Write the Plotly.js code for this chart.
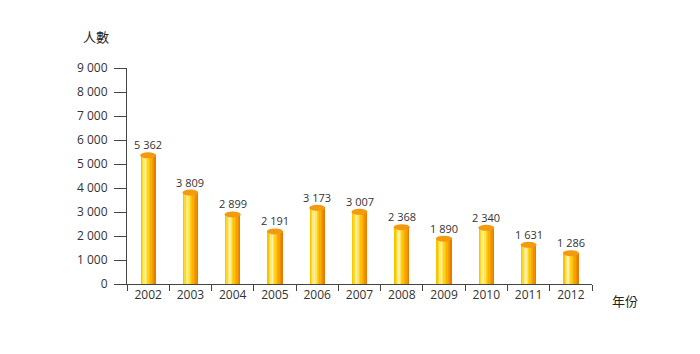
<!DOCTYPE html>
<html>
<head>
<meta charset="utf-8">
<script src="https://cdn.plot.ly/plotly-3.0.1.min.js"></script>
<style>html,body{margin:0;padding:0;background:#fff;}#chart{width:700px;height:354px;}</style>
</head>
<body>
<div id="chart"></div>
<script>
const years = ['2002','2003','2004','2005','2006','2007','2008','2009','2010','2011','2012'];
const persons = [5362, 3809, 2899, 2191, 3173, 3007, 2368, 1890, 2340, 1631, 1286];
const yTickVals = [0,1000,2000,3000,4000,5000,6000,7000,8000,9000];
const yTitle = '人數';
const xTitle = '年份';

// cylinder shading stripes (left -> right)
const stripeColors = ['#f7c600','#fbd82a','#ffe978','#fff0a8','#ffe35a','#fdd21c','#fbc20a','#f9b000','#f59f00','#f08c00','#e87c00'];
const barWidth = 0.36;
const n = stripeColors.length;
const sw = barWidth / n;

function fmt(v){ return String(v).replace(/\B(?=(\d{3})+(?!\d))/g,' '); }

const traces = stripeColors.map((c,k)=>({
  type:'bar', x: years, y: persons,
  width: sw*1.08, offset: -barWidth/2 + k*sw,
  marker:{color:c, line:{width:0}},
  hoverinfo:'skip', showlegend:false
}));

const shapes = persons.map((v,i)=>({
  type:'circle', xref:'x', yref:'y', layer:'above',
  x0: i - barWidth/2 - 0.01, x1: i + barWidth/2 + 0.01,
  y0: v - 125, y1: v + 125,
  fillcolor:'#f39a10', line:{width:0}
}));

const annotations = persons.map((v,i)=>({
  x: i, y: v, xref:'x', yref:'y', text: fmt(v), showarrow:false,
  xanchor:'center', yanchor:'bottom', yshift:1,
  font:{family:'Open Sans, sans-serif', size:11, color:'#333'}
}));
annotations.push({xref:'paper', yref:'paper', x:-0.067, y:1.145, text:yTitle, showarrow:false,
  xanchor:'center', yanchor:'middle', font:{family:'Noto Sans CJK TC, sans-serif', size:13, color:'#222'}});
annotations.push({xref:'paper', yref:'paper', x:1.07, y:-0.075, text:xTitle, showarrow:false,
  xanchor:'center', yanchor:'middle', font:{family:'Noto Sans CJK TC, sans-serif', size:13, color:'#222'}});

const layout = {
  width:700, height:354,
  margin:{l:127, r:108, t:68, b:70},
  paper_bgcolor:'#fff', plot_bgcolor:'#fff',
  barmode:'overlay', bargap:0,
  separators:'. ',
  showlegend:false,
  font:{family:'Open Sans, sans-serif', size:12, color:'#333'},
  xaxis:{type:'category', range:[-0.5,10.5], showline:true, linecolor:'#444', linewidth:1,
    ticks:'outside', tickson:'boundaries', ticklen:6, tickcolor:'#444', showgrid:false, zeroline:false,
    tickfont:{size:12, color:'#333'}},
  yaxis:{range:[0,9000], tickvals:yTickVals, tickformat:',d', showline:true, linecolor:'#444', linewidth:1,
    ticks:'outside', ticklen:12, tickcolor:'#444', showgrid:false, zeroline:false,
    ticklabelstandoff:4, tickfont:{size:12, color:'#333'}},
  shapes: shapes,
  annotations: annotations
};

Plotly.newPlot('chart', traces, layout, {staticPlot:true, displayModeBar:false});
</script>
</body>
</html>
